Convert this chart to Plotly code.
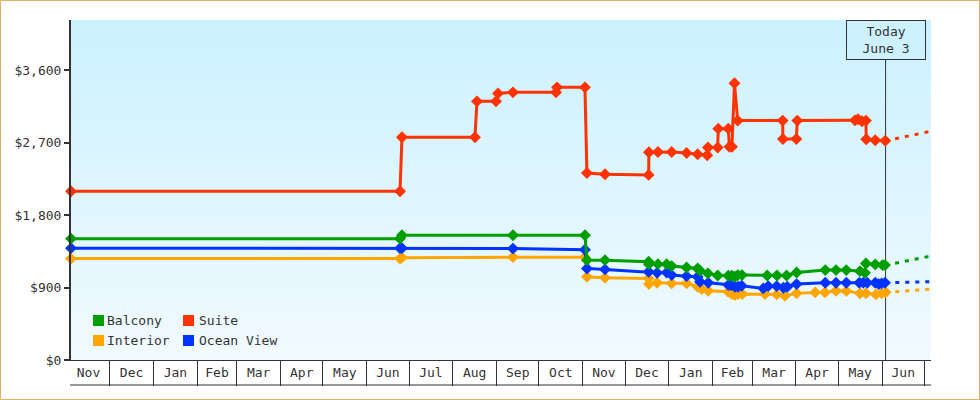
import pandas as pd
import plotly.graph_objects as go

# x values are days after the start of the axis (3 Nov)
START = pd.Timestamp("2013-11-03 14:00")
END = pd.Timestamp("2015-07-05 16:00")
TODAY = pd.Timestamp("2015-06-03 12:00")
Y_MAX = 4225

suite_days = [0, 233.0, 234.4, 286.1, 287.5, 301.0, 302.4, 313.0, 343.5, 344.2, 364.0, 365.4, 378.2, 409.1, 409.3,
              415.7, 425.4, 436.0, 443.8, 450.6, 451.1, 458.0, 458.4, 465.5, 466.3, 468.1, 469.9, 472.2, 504.0,
              504.2, 513.7, 514.4, 555.2, 557.4, 560.2, 563.0, 563.2, 569.6, 576.7]
suite_price = [2097, 2097, 2767, 2767, 3214, 3214, 3313, 3326, 3326, 3388, 3388, 2324, 2308, 2300, 2581,
               2585, 2585, 2573, 2556, 2544, 2640, 2640, 2875, 2875, 2650, 2650, 3438, 2975, 2975,
               2746, 2746, 2975, 2978, 2991, 2966, 2975, 2743, 2730, 2724]

balcony_days = [0, 233.0, 234.4, 313.0, 364.0, 365.4, 378.2, 409.1, 409.3, 415.7, 421.9, 425.4, 436.0, 443.8, 445.5,
                451.1, 458.0, 465.5, 468.0, 470.2, 472.2, 475.2, 493.1, 500.0, 506.8, 513.9, 534.2, 541.8, 549.1,
                558.8, 562.3, 563.0, 569.6, 574.8, 576.5]
balcony_price = [1508, 1508, 1551, 1551, 1551, 1241, 1241, 1220, 1191, 1191, 1191, 1167, 1150, 1138, 1108,
                 1076, 1051, 1046, 1046, 1034, 1055, 1055, 1051, 1051, 1051, 1088, 1117, 1117, 1117,
                 1104, 1083, 1200, 1188, 1179, 1179]

ocean_days = [0, 233.0, 234.4, 313.0, 364.0, 365.4, 378.2, 409.1, 415.1, 421.9, 425.4, 436.0, 443.8, 445.5, 451.3,
              465.5, 467.4, 470.2, 472.4, 475.0, 490.3, 493.8, 499.8, 504.5, 507.3, 513.9, 534.2, 541.8, 549.1,
              558.3, 561.1, 563.9, 569.6, 572.0, 574.1, 576.5]
ocean_price = [1390, 1390, 1390, 1384, 1371, 1138, 1126, 1096, 1083, 1088, 1055, 1042, 1034, 972, 959,
               931, 931, 910, 910, 922, 890, 918, 918, 897, 910, 943, 959, 959, 959,
               959, 959, 959, 959, 943, 952, 959]

interior_days = [0, 233.0, 234.4, 313.0, 364.0, 365.4, 378.2, 409.1, 409.3, 415.1, 425.4, 436.0, 443.8, 446.7, 451.3,
                 465.5, 468.1, 470.2, 472.4, 475.4, 491.5, 499.8, 505.6, 513.9, 527.1, 534.0, 541.8, 549.1, 558.8,
                 563.0, 570.1, 574.1, 577.0]
interior_price = [1260, 1260, 1272, 1278, 1278, 1034, 1021, 1014, 943, 959, 952, 952, 910, 881, 860,
                  848, 820, 807, 819, 819, 819, 815, 798, 828, 840, 840, 860, 856, 828,
                  828, 815, 828, 840]

# last known price -> projected price at the right edge of the chart
forecast_days = [576.7, 609]
suite_forecast = [2724, 2842]
balcony_forecast = [1179, 1291]
ocean_forecast = [959, 974]
interior_forecast = [840, 881]

y_ticks = [0, 900, 1800, 2700, 3600]
y_labels = ["$0", "$900", "$1,800", "$2,700", "$3,600"]

FONT = "DejaVu Sans Mono"
DARK = "#333333"

series = [
    ("Interior", "#FFA500", interior_days, interior_price, interior_forecast),
    ("Ocean View", "#0033FF", ocean_days, ocean_price, ocean_forecast),
    ("Balcony", "#009F00", balcony_days, balcony_price, balcony_forecast),
    ("Suite", "#FF3300", suite_days, suite_price, suite_forecast),
]


def to_dates(days):
    return [START + pd.Timedelta(days=d) for d in days]


fig = go.Figure()

# background gradient of the plot area
fig.add_trace(go.Heatmap(
    x=[START, END], y=[0, Y_MAX], z=[[1, 1], [0, 0]], zsmooth="best", zmin=0, zmax=1,
    colorscale=[[0, "#CBF1FF"], [1, "#F1FAFF"]], showscale=False, hoverinfo="skip"
))

fig.add_trace(go.Scatter(
    x=[TODAY, TODAY], y=[0, Y_MAX], mode="lines", line=dict(color=DARK, width=1),
    showlegend=False, hoverinfo="skip"
))

for name, color, days, price, forecast in series:
    fig.add_trace(go.Scatter(
        x=to_dates(forecast_days), y=forecast, mode="lines",
        line=dict(color=color, width=3, dash="4px,6px"), showlegend=False
    ))
    fig.add_trace(go.Scatter(
        x=to_dates(days), y=price, mode="lines+markers", name=name, cliponaxis=False,
        line=dict(color=color, width=3),
        marker=dict(color=color, size=7, symbol="diamond", line=dict(color=color, width=2)), showlegend=False
    ))

W, H = 860, 340
shapes = [
    # page frame
    dict(type="rect", xref="paper", yref="paper", x0=-70.5 / W, x1=908.5 / W, y0=-39.5 / H, y1=359.5 / H,
         line=dict(color="#E9AD66", width=1)),
    # bottom line of the month strip
    dict(type="line", xref="paper", yref="paper", x0=-1 / W, x1=1, y0=-25 / H, y1=-25 / H,
         line=dict(color=DARK, width=1)),
]
annotations = [
    dict(x=TODAY, y=1, xref="x", yref="paper", yanchor="top", text="Today<br>June 3", showarrow=False,
         font=dict(family=FONT, size=13, color=DARK), bgcolor="#CDF1FF", bordercolor=DARK, borderwidth=1,
         width=76, height=36, align="center"),
]

# legend: (name, swatch left px, top px, label left px)
legend_items = [("Balcony", "#009F00", 93, 315, 105), ("Suite", "#FF3300", 183, 315, 197),
                ("Interior", "#FFA500", 93, 335, 105), ("Ocean View", "#0033FF", 183, 335, 197)]
for name, color, left, top, text_left in legend_items:
    shapes.append(dict(type="rect", xref="paper", yref="paper", x0=(left - 71) / W, x1=(left + 11 - 71) / W,
                       y0=(360 - top) / H, y1=(360 - top - 11) / H, fillcolor=color, line_width=0))
    annotations.append(dict(x=(text_left - 71) / W, y=(360 - top - 5.5) / H, xref="paper", yref="paper",
                            xanchor="left", yanchor="middle", text=name, showarrow=False,
                            font=dict(family=FONT, size=13, color=DARK)))

fig.update_layout(
    width=980, height=400, margin=dict(l=71, r=49, t=20, b=40),
    paper_bgcolor="white", plot_bgcolor="white", showlegend=False,
    font=dict(family=FONT, size=13, color=DARK),
    shapes=shapes, annotations=annotations,
    xaxis=dict(
        type="date", range=[START, END], tick0="2013-11-01", dtick="M1", tickformat="%b",
        ticklabelmode="period", ticks="outside", ticklen=25, tickwidth=1, tickcolor=DARK,
        ticklabelstandoff=-25, showline=True, linecolor=DARK, linewidth=1, showgrid=False, zeroline=False
    ),
    yaxis=dict(
        range=[0, Y_MAX], tickvals=y_ticks, ticktext=y_labels, ticks="outside", ticklen=5, tickwidth=2,
        tickcolor=DARK, showline=True, linecolor=DARK, linewidth=2, showgrid=False, zeroline=False
    ),
)

fig.write_html("out.html", config=dict(displayModeBar=False), post_script="document.body.style.margin='0';")
